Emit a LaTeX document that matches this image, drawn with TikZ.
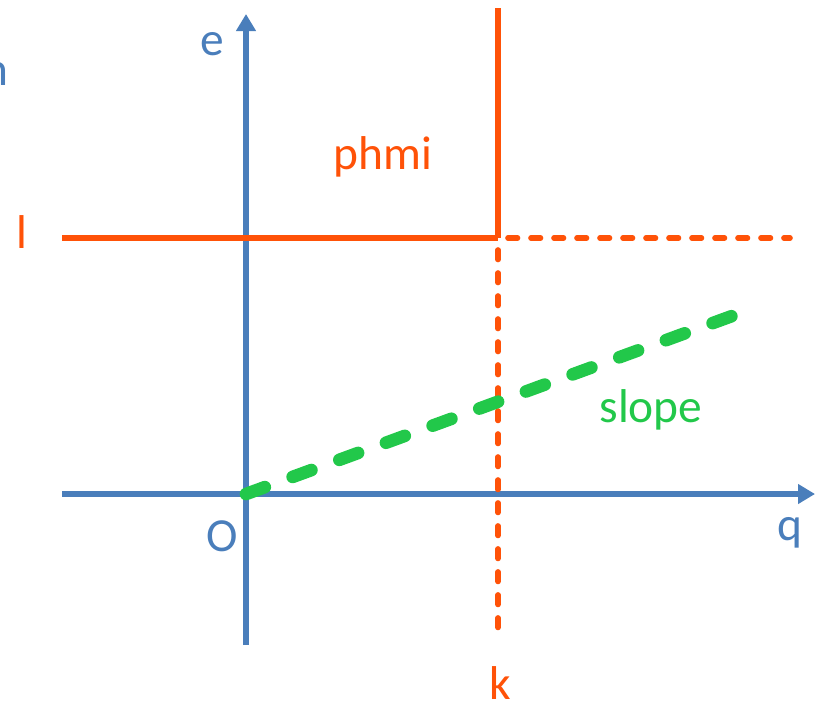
\documentclass[tikz,border=0pt]{standalone}
\usepackage{fontspec}
\setmainfont{Carlito}
\usepackage{xcolor}
\usetikzlibrary{arrows.meta,positioning,calc}
\definecolor{axisblue}{HTML}{4A7EBB}
\definecolor{limorange}{HTML}{FF5208}
\definecolor{slopegreen}{HTML}{22C84A}

\begin{document}
\begin{tikzpicture}[
        x=0.02cm, y=-0.02cm,
        axis/.style={axisblue, line width=3.2pt, -{Triangle[length=0.34cm, width=0.38cm]}},
        bound/.style={limorange, line width=3.2pt},
        bounddash/.style={bound, line cap=round, dash pattern=on 0.19cm off 0.27cm},
        trend/.style={slopegreen, line width=7.2pt, line cap=round, dash pattern=on 0.4cm off 0.594cm},
        lbl/.style={font=\fontsize{27pt}{31pt}\selectfont, inner sep=0pt}
    ]
        \useasboundingbox (0,0) rectangle (817,707);
        % axes
        \coordinate (O) at (246,494);
        \coordinate (xl) at (62,494);
        \coordinate (xr) at (815,494);
        \coordinate (yb) at (246,645);
        \coordinate (yt) at (246,14);
        \draw[axis] (xl) -- (xr);
        \draw[axis] (yb) -- (yt);
        % limits
        \coordinate (ll) at (62,238);
        \coordinate (corner) at (498,238);
        \coordinate (lr) at (790,238);
        \coordinate (kt) at (498,8);
        \coordinate (kb) at (498,640);
        \draw[bound] (ll) -- (corner);
        \draw[bound] (kt) -- (corner);
        \draw[bounddash] (corner) ++(10,0) -- (lr);
        \draw[bounddash] (corner) ++(0,12) -- (kb);
        % slope
        \coordinate (send) at (732,316);
        \draw[trend] (O) -- (send);
        % labels
        \node[lbl, text=axisblue] (elbl) at (212,44) {e};
        \node[lbl, text=axisblue] (qlbl) at (790,533) {q};
        \node[lbl, text=axisblue] (olbl) at (222,536) {O};
        \node[lbl, text=axisblue] (cut) at (-4,74) {n};
        \node[lbl, text=limorange] (llbl) at (22,232) {l};
        \node[lbl, text=limorange] (klbl) at (500,683) {k};
        \node[lbl, text=limorange] (phmi) at (383,157) {phmi};
        \node[lbl, text=slopegreen] (slope) at (651,410) {slope};
    \end{tikzpicture}
\end{document}
